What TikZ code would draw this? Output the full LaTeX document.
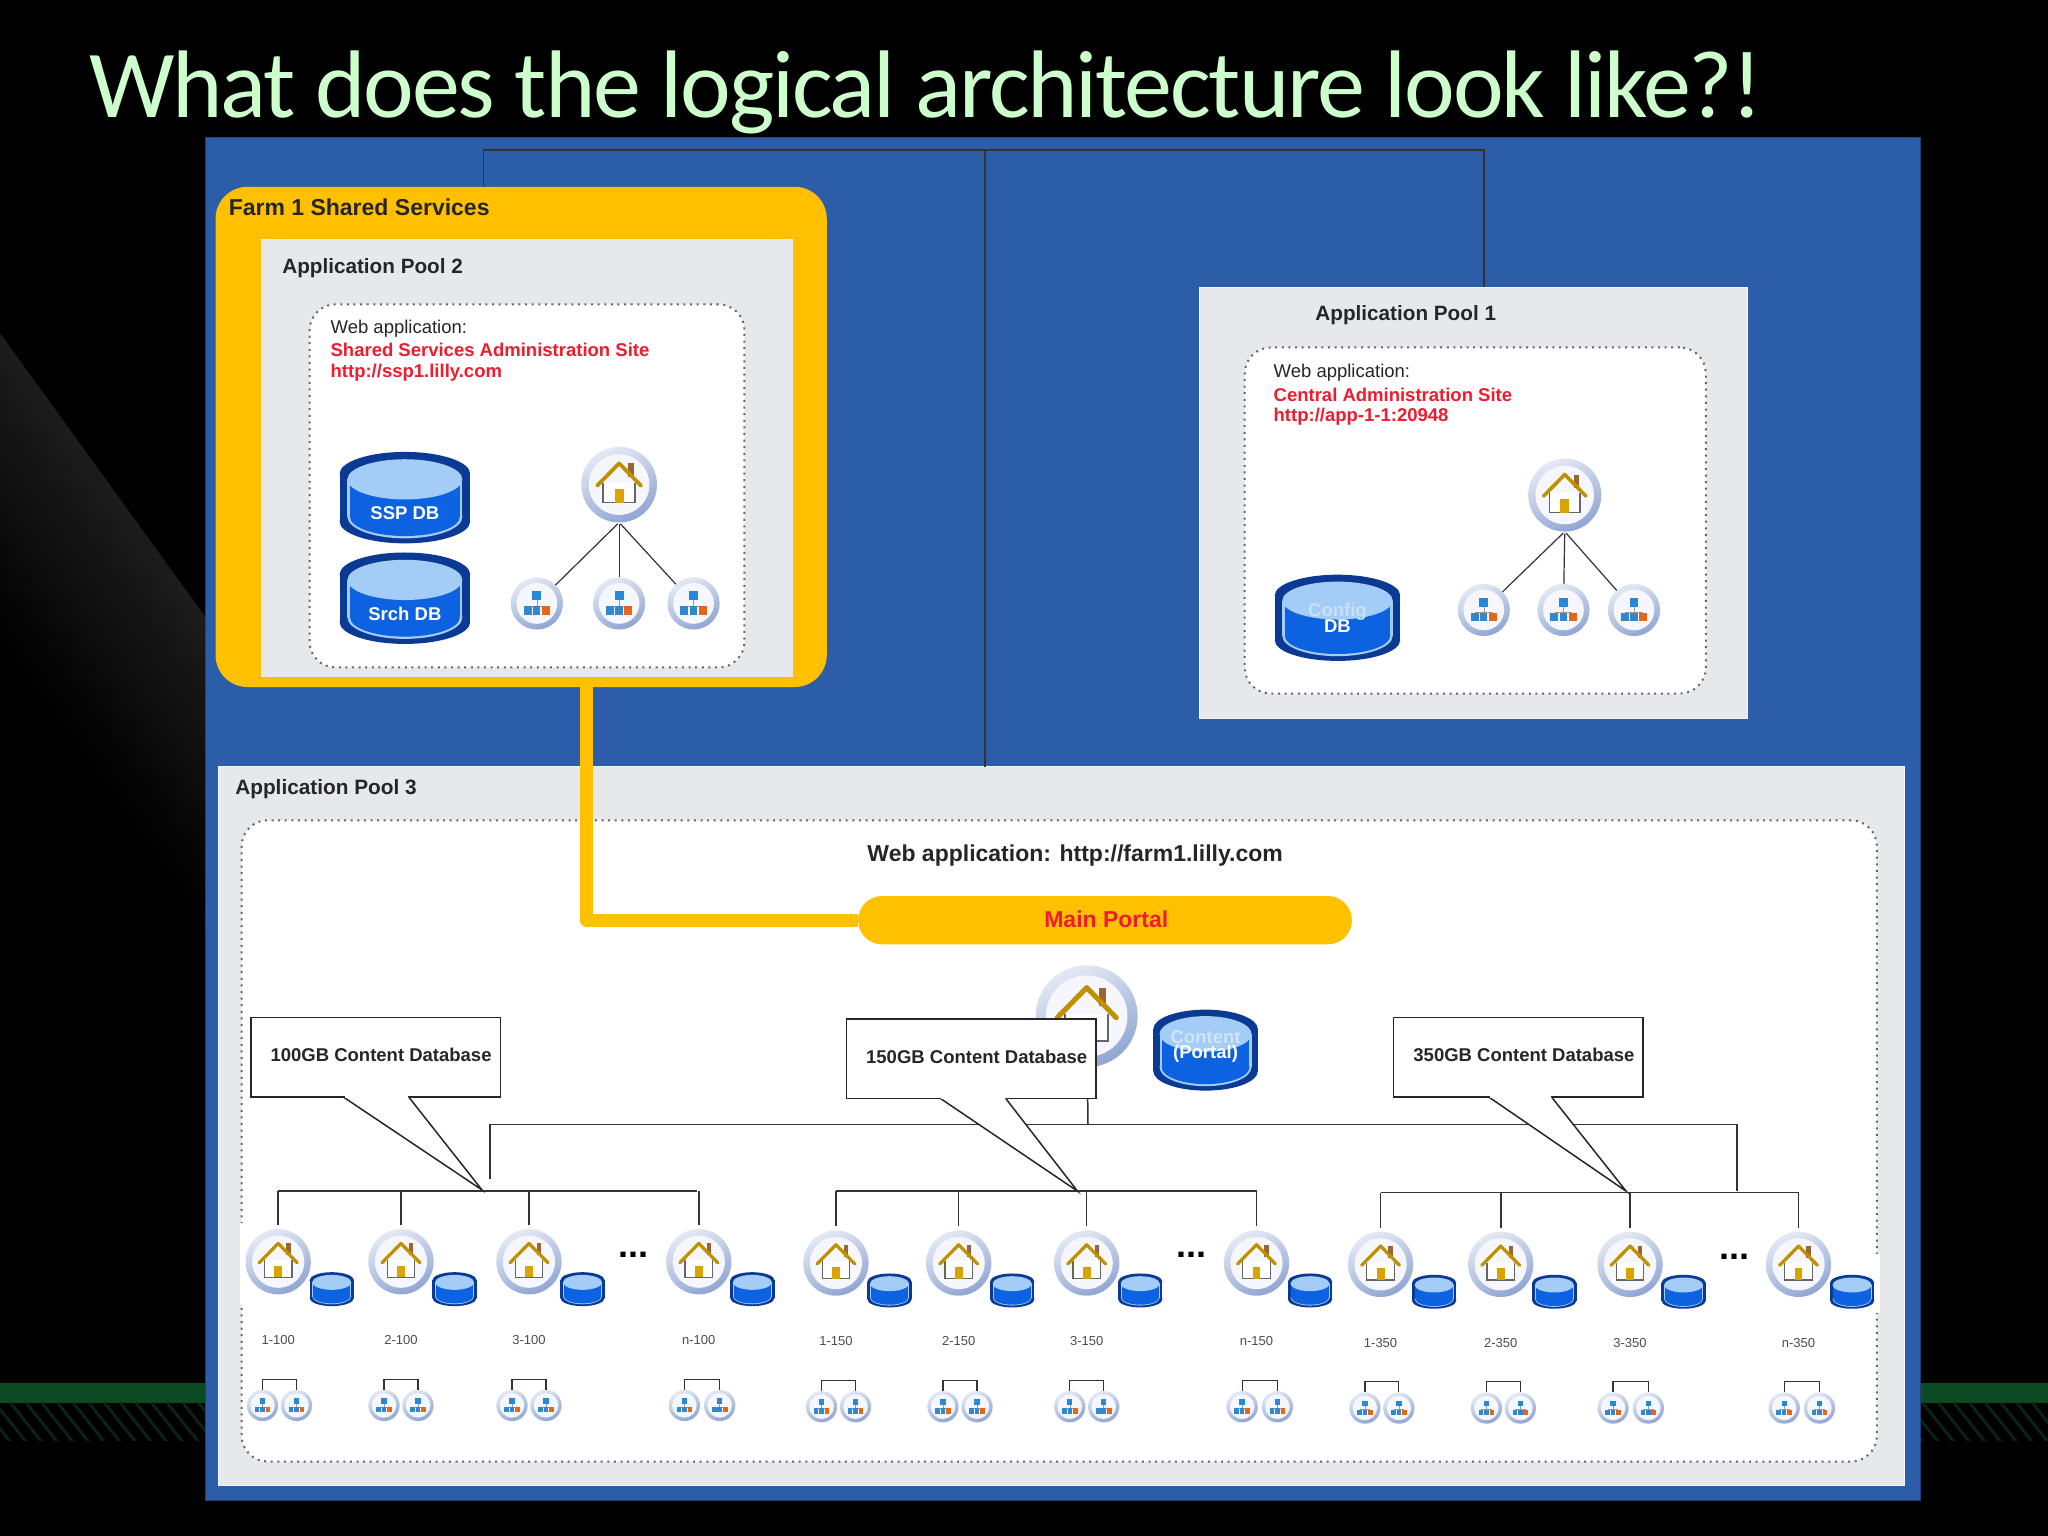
\documentclass[tikz,border=0pt]{standalone}
\usepackage{fontspec}
\setmainfont{Liberation Sans}
\newfontfamily\titlefam[LetterSpace=-2.2]{Carlito}
\usetikzlibrary{fit,calc}
\definecolor{panelblue}{HTML}{2B5DA8}
\definecolor{paleg}{HTML}{E6E8EB}
\definecolor{amber}{HTML}{FFC000}
\definecolor{redtxt}{HTML}{EE1C2E}
\definecolor{mint}{HTML}{CCFFCC}
\definecolor{navy}{HTML}{0B3A94}
\definecolor{dbblue}{HTML}{0C62E0}
\definecolor{dbtop}{HTML}{A3CCF6}
\definecolor{ringa}{HTML}{E4E9F4}
\definecolor{ringb}{HTML}{8FA5D2}
\definecolor{ballin}{HTML}{F5F7FC}
\definecolor{stripe}{HTML}{0C4A24}
\definecolor{hatch}{HTML}{0B2412}
\newcommand\fs[1]{\fontsize{#1}{#1}\selectfont}
\tikzset{
  boxed/.style={inner sep=0pt,outer sep=0pt},
  frame/.style={boxed,draw=black!60,fill=white,line width=2pt,dash pattern=on 2pt off 4.6pt,rounded corners=26pt},
  txt/.style={inner sep=0pt,anchor=west,text=#1},
  txt/.default=black!85,
  wire/.style={draw=black!80,line width=1.5pt},
  thin wire/.style={draw=black!80,line width=1.2pt},
  ball/.style={circle,boxed,minimum size={2*#1*1.306122pt},shade,left color=ringa,right color=ringb,shading angle=25},
  callout/.style={boxed,draw=black!85,fill=white,line width=1.5pt},
  tail/.style={draw=black!85,fill=white,line width=1.5pt,line join=miter},
  small/.style={inner sep=0pt,text=black!70,font=\fs{13}},
  dblabel/.style={inner sep=0pt,align=center,text=white,font=\bfseries\fs{18.5}}
}
% name, x, y, radius
\newcommand\homeicon[4]{%
  \node[ball=#4] (#1) at (#2,#3) {};
  \begin{scope}[shift={(#2,#3)},scale=#4]
    \fill[ballin] (0,0) circle (0.8);
    \fill[brown!80!black] (0.24,-0.56) rectangle (0.38,-0.2);
    \draw[black!60,fill=white,line width={#4*0.05pt}] (-0.42,-0.05) -- (-0.42,0.48) -- (0.42,0.48) -- (0.42,-0.05);
    \fill[amber!85!black] (-0.12,0.12) rectangle (0.12,0.48);
    \draw[amber!75!black,line width={#4*0.13pt},line cap=round,line join=round] (-0.58,0.03) -- (0,-0.56) -- (0.58,0.03);
  \end{scope}}
\newcommand\siteicon[4]{%
  \node[ball=#4] (#1) at (#2,#3) {};
  \begin{scope}[shift={(#2,#3)},scale=#4]
    \fill[ballin] (0,0) circle (0.78);
    \fill[blue!45!cyan!70!gray] (-0.17,-0.46) rectangle (0.17,-0.12);
    \draw[black!40,line width=0.4pt] (0,-0.12) -- (0,0.1) (-0.34,0.1) -- (0.34,0.1);
    \fill[blue!45!cyan!60!gray] (-0.5,0.1) rectangle (-0.2,0.44);
    \fill[blue!45!cyan!60!gray] (-0.14,0.1) rectangle (0.14,0.44);
    \fill[orange!75!red!80!gray] (0.2,0.1) rectangle (0.5,0.44);
  \end{scope}}
% name, x, y, half width, half height, text, text offset
\newcommand\dbicon[7]{%
  \begin{scope}[shift={(#2,#3)},x={#4*1.306122pt},y={-#5*1.306122pt}]
    \fill[navy] (-1,-0.52) rectangle (1,0.52);
    \fill[navy] (0,-0.52) ellipse [x radius=1,y radius=0.48];
    \fill[navy] (0,0.52) ellipse [x radius=1,y radius=0.48];
    \fill[dbtop] (0,0.42) ellipse [x radius=0.88,y radius=0.47];
    \fill[dbtop] (-0.88,-0.4) rectangle (0.88,0.42);
    \fill[dbblue] (0,0.42) ellipse [x radius=0.84,y radius=0.42];
    \fill[dbblue] (-0.84,-0.4) rectangle (0.84,0.42);
    \fill[dbtop] (0,-0.4) ellipse [x radius=0.88,y radius=0.44];
  \end{scope}
  \node[dblabel] (#1) at (#2,#3+#7) {#6};}
\begin{document}
\begin{tikzpicture}[x=1.306122pt,y=-1.306122pt]
\useasboundingbox (0,0) rectangle (1568,1176);
\fill[black] (0,0) rectangle (1568,1176);
% background decoration
\foreach \i in {0,...,29} {
  \pgfmathsetmacro\shadeval{89+\i*0.37}
  \fill[black!\shadeval] (0,255+\i*8) -- (157,472+\i*8) -- (157,481+\i*8) -- (0,264+\i*8) -- cycle;
}
\fill[stripe] (0,1059) rectangle (1568,1074);
\begin{scope}
  \clip (0,1074) rectangle (1568,1103);
  \foreach \hx in {-40,-28,...,1568} {\draw[hatch,line width=3pt] (\hx,1074) -- ++(24,30);}
\end{scope}
\node[inner sep=0pt,anchor=base west,text=mint,font=\titlefam\fs{96}] (title) at (68,90) {What does the logical architecture look like?!};
% main panel
\node[fit={(157,105)(1470,1149)},boxed,fill=panelblue,draw=panelblue!70!black,line width=1pt] (panel) {};
% pools
\coordinate (tl) at (370,115);
\coordinate (tm) at (754,115);
\coordinate (tr) at (1136,115);
\node[fit={(165,143)(633,526)},boxed,fill=amber,rounded corners=32pt] (farm) {};
\node[fit={(918,220)(1338,550)},boxed,fill=paleg,draw=white!60!paleg,line width=0.8pt] (poolone) {};
\node[fit={(167,587)(1458,1137)},boxed,fill=paleg,draw=white!60!paleg,line width=0.8pt] (poolthree) {};
\draw[wire] (farm.north -| tl) -- (tl) -- (tr) -- (poolone.north -| tr);
\draw[wire] (tm) -- (poolthree.north -| tm);
\node[fit={(200,183)(607,518)},boxed,fill=paleg] (pooltwo) {};
% farm panel
\node[txt,font=\bfseries\fs{23}] (farmlbl) at (175,159) {Farm 1 Shared Services};
\node[txt,font=\bfseries\fs{20.7}] (p2lbl) at (216,205) {Application Pool 2};
\node[fit={(237,233)(570,511)},frame] (webtwo) {};
\node[txt,font=\fs{18.5}] (w2a) at (253,252) {Web application:};
\node[txt=redtxt,font=\bfseries\fs{18.5}] (w2b) at (253,268) {Shared Services Administration Site};
\node[txt=redtxt,font=\bfseries\fs{18.5}] (w2c) at (253,285) {http://ssp1.lilly.com};
\dbicon{sspdb}{310}{381}{50}{35}{SSP DB}{12}
\dbicon{srchdb}{310}{458}{50}{35}{Srch DB}{12}
\homeicon{h2}{474}{371}{29}
\siteicon{s2a}{411}{462}{20}
\siteicon{s2b}{474}{462}{20}
\siteicon{s2c}{531}{462}{20}
\draw[thin wire,shorten <=2pt] (h2.south) -- (s2a);
\draw[thin wire,shorten <=2pt] (h2.south) -- (s2b);
\draw[thin wire,shorten <=2pt] (h2.south) -- (s2c);
% pool 1
\node[txt,font=\bfseries\fs{20.7}] (p1lbl) at (1007,241) {Application Pool 1};
\node[fit={(953,266)(1306,531)},frame] (webone) {};
\node[txt,font=\fs{18.5}] (w1a) at (975,285) {Web application:};
\node[txt=redtxt,font=\bfseries\fs{18.5}] (w1b) at (975,302) {Central Administration Site};
\node[txt=redtxt,font=\bfseries\fs{18.5}] (w1c) at (975,319) {http://app-1-1:20948};
\dbicon{cfgdb}{1024}{473}{48}{33}{\textcolor{dbtop!60!white}{Config}\\[-2pt]DB}{0}
\homeicon{h1}{1198}{379}{28}
\siteicon{s1a}{1136}{467}{20}
\siteicon{s1b}{1197}{467}{20}
\siteicon{s1c}{1251}{467}{20}
\draw[thin wire,shorten <=2pt] (h1.south) -- (s1a);
\draw[thin wire,shorten <=2pt] (h1.south) -- (s1b);
\draw[thin wire,shorten <=2pt] (h1.south) -- (s1c);
% pool 3
\node[txt,font=\bfseries\fs{20.8}] (p3lbl) at (180,604) {Application Pool 3};
\node[fit={(185,628)(1437,1119)},frame] (webthree) {};
\fill[white] (184,936) rectangle (192,998);
\fill[white] (1433,960) rectangle (1439,1005);
\node[txt,font=\bfseries\fs{23}] (w3) at (664,655) {Web application: http://farm1.lilly.com};
\node[fit={(657,686)(1035,723)},boxed,fill=amber,rounded corners=24pt] (portal) {};
\node[inner sep=0pt,text=redtxt,font=\bfseries\fs{23}] (portallbl) at (847,704) {Main Portal};
\coordinate (yl) at (449,526);
\draw[amber,line width=13pt,line join=round] (yl) |- (portal.west);
% farm-level portal site
\homeicon{bighome}{832}{778}{39}
\dbicon{contentdb}{923}{804}{40}{31}{\textcolor{dbtop!50!white}{Content}\\[-3pt](Portal)}{-3}
% buses
\coordinate (busl) at (375,861);
\coordinate (busr) at (1330,861);
\coordinate (jm) at (833,861);
\coordinate (dl) at (375,903);
\coordinate (dr) at (1330,912);
\draw[wire] (dl) -- (busl) -- (busr) -- (dr);
\draw[wire] (bighome) -- (jm);
% groups: home x, site xs, tag, label, y offset
\foreach \gl/\gr/\gy/\gt in {213/534/912/a,640/962/912/b,1057/1377/913/c} {
  \coordinate (g\gt l) at (\gl,\gy);
  \coordinate (g\gt r) at (\gr,\gy);
  \draw[wire] (g\gt l) -- (g\gt r);
}
\foreach \tag/\hx/\hy/\lbl/\ly/\sa/\sb/\sy/\gp in {
  ka/213/966/1-100/1026/201/227/1076/a,
  kb/307/966/2-100/1026/294/320/1076/a,
  kc/405/966/3-100/1026/392/418/1076/a,
  kd/535/966/n-100/1026/524/551/1076/a,
  ke/640/967/1-150/1027/629/655/1077/b,
  kf/734/967/2-150/1027/722/748/1077/b,
  kg/832/967/3-150/1027/819/845/1077/b,
  kh/962/967/n-150/1027/951/978/1077/b,
  ki/1057/968/1-350/1028/1045/1071/1078/c,
  kj/1149/968/2-350/1028/1138/1164/1078/c,
  kk/1248/968/3-350/1028/1235/1262/1078/c,
  kl/1377/968/n-350/1028/1366/1393/1078/c} {
  \homeicon{\tag home}{\hx}{\hy}{25}
  \pgfmathsetmacro\dbx{\hx+41}
  \pgfmathsetmacro\dby{\hy+21}
  \dbicon{\tag db}{\dbx}{\dby}{17}{13}{}{0}
  \draw[wire,shorten >=4pt] (\tag home |- g\gp l) -- (\tag home);
  \node[small] (\tag lbl) at (\hx,\ly) {\lbl};
  \siteicon{\tag sa}{\sa}{\sy}{12}
  \siteicon{\tag sb}{\sb}{\sy}{12}
  \pgfmathsetmacro\bry{\sy-20}
  \coordinate (\tag top) at (\sa,\bry);
  \draw[thin wire] (\tag sa.north) -- (\tag top) -| (\tag sb.north);
}
\foreach \dx/\dy/\dt in {485/963/a,912/963/b,1328/964/c} {
  \node[inner sep=0pt,anchor=base,font=\bfseries\fs{36}] (dots\dt) at (\dx,\dy) {...};
}
% callouts
\foreach \cx/\cy/\ca/\cb/\tx/\ty/\cl/\ct in {
  192/779/263/313/369/911/100GB Content Database/a,
  648/780/720/770/825/912/150GB Content Database/b,
  1067/779/1140/1188/1245/912/350GB Content Database/c} {
  \node[fit={(\cx,\cy)(\cx+191,\cy+61)},callout] (box\ct) {};
  \coordinate (tip\ct) at (\tx,\ty);
  \coordinate (tla\ct) at (\ca,\cy+61);
  \coordinate (tlb\ct) at (\cb,\cy+61);
  \fill[white] (tla\ct) -- (tip\ct) -- (tlb\ct) -- cycle;
  \draw[tail,fill=none] (tla\ct) -- (tip\ct) -- (tlb\ct);
  \draw[white,line width=2pt,shorten <=1pt,shorten >=1pt] (tla\ct) -- (tlb\ct);
  \node[txt,font=\bfseries\fs{18.5}] (boxlbl\ct) at (\cx+15,\cy+29) {\cl};
}
\end{tikzpicture}
\end{document}
